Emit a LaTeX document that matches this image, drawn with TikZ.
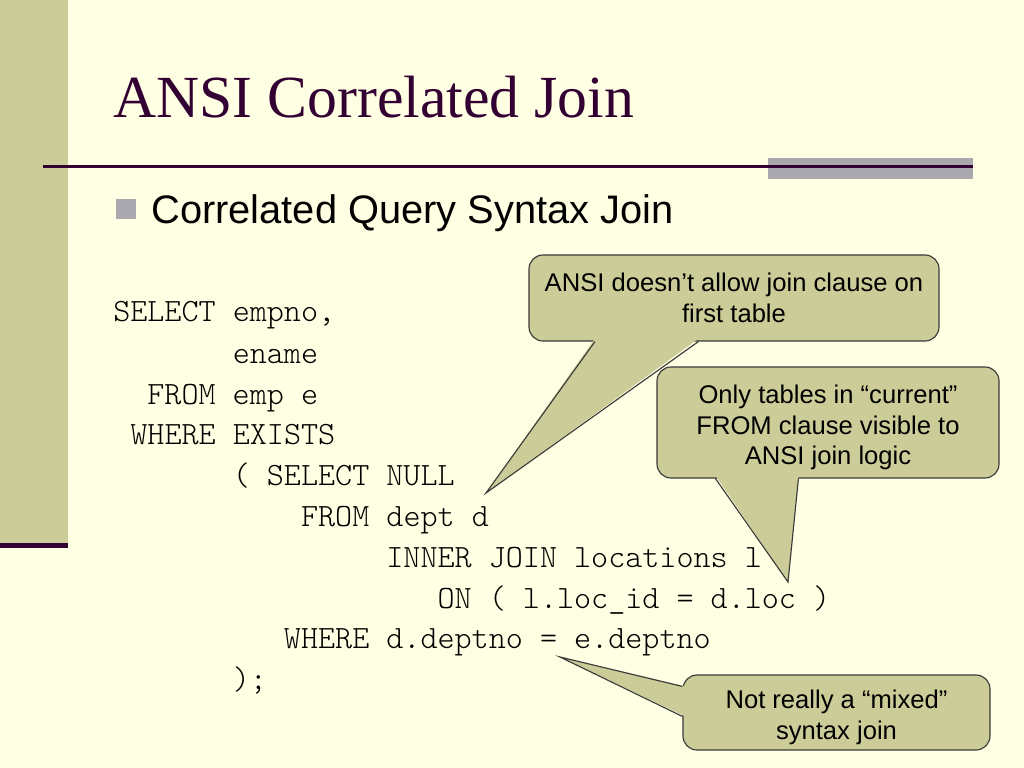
\documentclass[tikz,border=0pt]{standalone}
\usepackage{fontspec}
\setmainfont{Liberation Serif}
\newfontfamily\arialf{Liberation Sans}
\newfontfamily\courf{Latin Modern Mono Light}
\usetikzlibrary{calc}
\newcommand\pxu{0.703125pt}
\definecolor{bgyellow}{HTML}{FFFFE3}
\definecolor{sidebar}{HTML}{CCCC99}
\definecolor{darkplum}{HTML}{330033}
\definecolor{rulegray}{HTML}{A8A8AE}
\definecolor{calloutfill}{HTML}{CCCC99}
\definecolor{calloutline}{HTML}{3A3A3A}
\tikzset{
  codeline/.style={anchor=base west, inner sep=0pt, font=\courf\fontsize{22.86}{26}\selectfont, text=black},
  calloutbox/.style={draw=calloutline, fill=calloutfill, line width=0.8pt,
     rounded corners=14*\pxu, inner sep=0pt},
  callouttext/.style={align=center, inner sep=0pt,
     font=\arialf\fontsize{18}{21.5}\selectfont, text=black},
  pointerfill/.style={fill=calloutfill},
  pointerline/.style={draw=calloutline, line width=0.8pt, line join=miter},
}
\begin{document}
\begin{tikzpicture}[x=0.703125pt, y=-0.703125pt]
\useasboundingbox (0,0) rectangle (1024,768);
\fill[bgyellow] (0,0) rectangle (1024,768);
% side bar
\fill[sidebar] (0,0) rectangle (68,543);
\fill[darkplum] (0,543) rectangle (68,548);
% rule
\fill[rulegray] (768,158) rectangle (973,179);
\draw[darkplum, line width=1.5pt] (43,166.5) -- (973,166.5);
% title
\node[anchor=base west, inner sep=0pt, text=darkplum, font=\fontsize{42}{48}\selectfont] (title) at (113,118) {ANSI Correlated Join};
% bullet
\fill[rulegray] (116,199) rectangle (136,219);
\node[anchor=base west, inner sep=0pt, font=\arialf\fontsize{28}{33}\selectfont] (bullet) at (151,224) {Correlated Query Syntax Join};
% code
\node[codeline] (l1) at (113,322) {SELECT empno,};
\node[codeline] (l2) at (232.5,363) {ename};
\node[codeline] (l3) at (147.1,404) {FROM emp e};
\node[codeline] (l4) at (130.1,444) {WHERE EXISTS};
\node[codeline] (l5) at (232.5,485) {( SELECT NULL};
\node[codeline] (l6) at (300.8,526) {FROM dept d};
\node[codeline] (l7) at (386.1,567) {INNER JOIN locations l};
\node[codeline] (l8) at (437.3,608) {ON ( l.loc\_id = d.loc )};
\node[codeline] (l9) at (283.7,648) {WHERE d.deptno = e.deptno};
\node[codeline] (l10) at (232.5,689) {);};
% callout 1
\node[calloutbox, minimum width=410*\pxu, minimum height=86*\pxu] (c1) at (734,298) {};
\coordinate (tip1) at (486,493);
\coordinate (b1l) at ($(c1.south west)+(66.5,0)$);
\coordinate (b1r) at ($(c1.south west)+(170,0)$);
\fill[pointerfill] ($(b1l)+(0,-3)$) -- (tip1) -- ($(b1r)+(0,-3)$) -- cycle;
\draw[pointerline] (b1l) -- (tip1) -- (b1r);
\node[callouttext] (t1) at (734,298) {ANSI doesn’t allow join clause on\\first table};
% callout 2
\node[calloutbox, minimum width=342*\pxu, minimum height=111*\pxu] (c2) at (828,422.5) {};
\coordinate (tip2) at (788,582);
\coordinate (b2l) at ($(c2.south west)+(59,0)$);
\coordinate (b2r) at ($(c2.south west)+(142,0)$);
\fill[pointerfill] ($(b2l)+(0,-3)$) -- (tip2) -- ($(b2r)+(0,-3)$) -- cycle;
\draw[pointerline] (b2l) -- (tip2) -- (b2r);
\node[callouttext] (t2) at (828,427.5) {Only tables in “current”\\FROM clause visible to\\ANSI join logic};
% callout 3
\node[calloutbox, minimum width=307*\pxu, minimum height=75*\pxu] (c3) at (836.5,712.5) {};
\coordinate (tip3) at (560,657);
\coordinate (b3t) at ($(c3.north west)+(0,12)$);
\coordinate (b3b) at ($(c3.north west)+(0,42)$);
\fill[pointerfill] ($(b3t)+(3,0)$) -- (tip3) -- ($(b3b)+(3,0)$) -- cycle;
\draw[pointerline] (b3t) -- (tip3) -- (b3b);
\node[callouttext] (t3) at (836.5,717.5) {Not really a “mixed”\\syntax join};
\end{tikzpicture}
\end{document}
